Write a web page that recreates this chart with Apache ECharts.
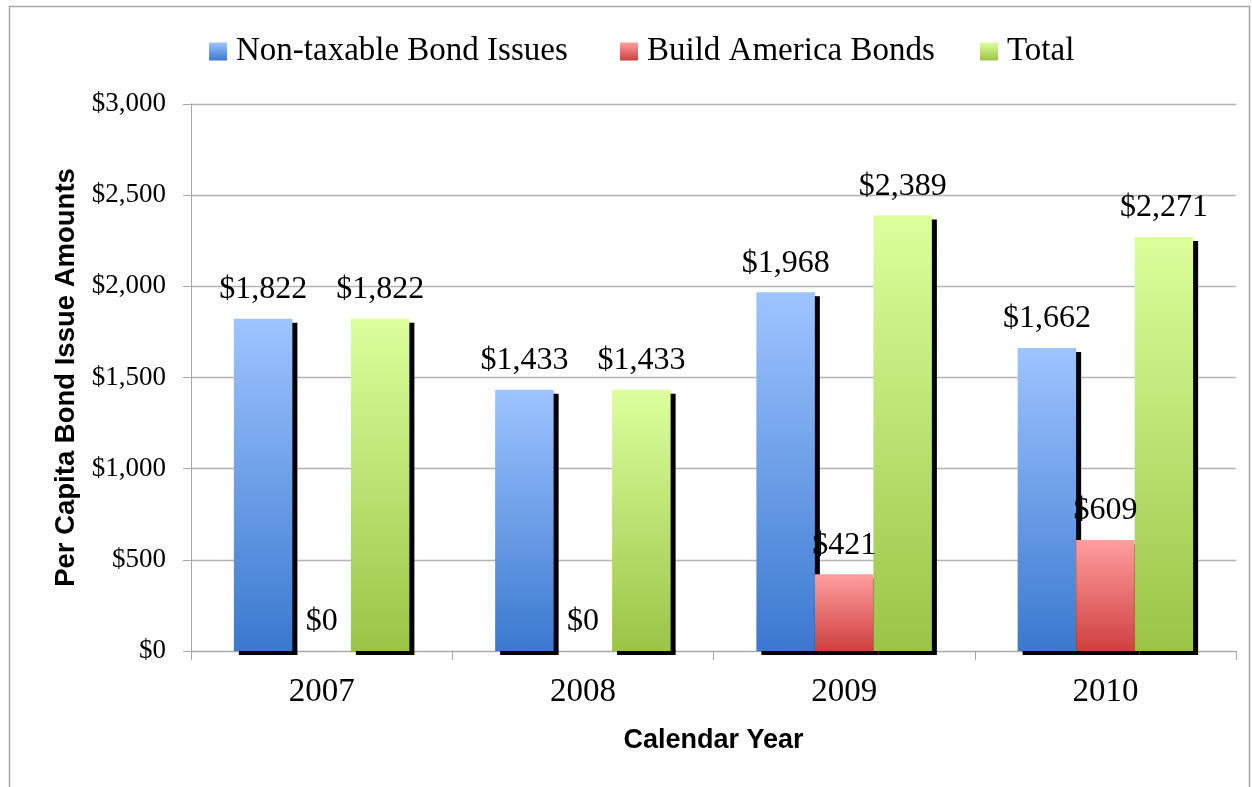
<!DOCTYPE html>
<html>
<head>
<meta charset="utf-8">
<script src="https://cdn.jsdelivr.net/npm/echarts@6/dist/echarts.min.js"></script>
<style>
  html, body { margin: 0; padding: 0; background: #fff; }
  #chart { width: 1252px; height: 787px; }
</style>
</head>
<body>
<div id="chart"></div>
<script>
// Per capita bond issue amounts by calendar year
const years = ['2007', '2008', '2009', '2010'];
const nonTaxable = [1822, 1433, 1968, 1662];
const buildAmerica = [0, 0, 421, 609];
const totals = [1822, 1433, 2389, 2271];
const yTicks = { min: 0, max: 3000, interval: 500 };

const serif = '"Liberation Serif", "Times New Roman", serif';
const sans = '"Liberation Sans", Arial, sans-serif';

function money(v) {
  return '$' + String(Math.round(v)).replace(/\B(?=(\d{3})+(?!\d))/g, ',');
}

function grad(top, bottom) {
  return new echarts.graphic.LinearGradient(0, 0, 0, 1, [
    { offset: 0, color: top },
    { offset: 1, color: bottom }
  ]);
}

const palette = {
  blue: ['#9EC4FF', '#3A79CF'],
  red: ['#FF9E9E', '#CF4040'],
  green: ['#DCFF9C', '#9BC446']
};

function barSeries(name, data, colors) {
  return {
    name: name,
    type: 'bar',
    data: data,
    barWidth: 58.5,
    barGap: '0%',
    itemStyle: {
      color: grad(colors[0], colors[1]),
      shadowColor: '#000',
      shadowBlur: 0,
      shadowOffsetX: 5,
      shadowOffsetY: 4
    },
    label: {
      show: true,
      position: 'top',
      distance: 13,
      color: '#000',
      fontFamily: serif,
      fontSize: 32,
      lineHeight: 32,
      formatter: p => money(p.value)
    },
    emphasis: { disabled: true }
  };
}

function legendAt(left, name) {
  return {
    data: [name],
    left: left,
    top: 35,
    padding: 0,
    itemWidth: 18,
    itemHeight: 18,
    icon: 'rect',
    itemStyle: { shadowColor: 'rgba(0,0,0,0)', shadowOffsetX: 0, shadowOffsetY: 0 },
    textStyle: { fontFamily: serif, fontSize: 33, color: '#000', padding: [0, 0, 0, 4] },
    selectedMode: false
  };
}

const chart = echarts.init(document.getElementById('chart'), null, { renderer: 'canvas' });

chart.setOption({
  backgroundColor: '#fff',
  animation: false,
  graphic: [{
    type: 'rect',
    shape: { x: 9.5, y: 6.5, width: 1240, height: 800 },
    style: { fill: 'none', stroke: '#A8A8A8', lineWidth: 1.5 },
    silent: true,
    z: -10
  }],
  legend: [
    legendAt(209, 'Non-taxable Bond Issues'),
    legendAt(620, 'Build America Bonds'),
    legendAt(980, 'Total')
  ],
  grid: { left: 191, right: 16, top: 104, bottom: 136, containLabel: false },
  xAxis: {
    type: 'category',
    data: years,
    name: 'Calendar Year',
    nameLocation: 'middle',
    nameGap: 76,
    nameTextStyle: { fontFamily: sans, fontWeight: 'bold', fontSize: 27, color: '#000' },
    axisLine: { lineStyle: { color: '#A6A6A6', width: 1 } },
    axisTick: { show: true, length: 9, alignWithLabel: false, lineStyle: { color: '#A6A6A6' } },
    axisLabel: { fontFamily: serif, fontSize: 33, color: '#000', margin: 25 },
    splitLine: { show: false }
  },
  yAxis: {
    type: 'value',
    min: yTicks.min,
    max: yTicks.max,
    interval: yTicks.interval,
    name: 'Per Capita Bond Issue Amounts',
    nameLocation: 'middle',
    nameRotate: 90,
    nameGap: 111,
    nameTextStyle: { fontFamily: sans, fontWeight: 'bold', fontSize: 27.5, color: '#000' },
    axisLine: { show: true, lineStyle: { color: '#A6A6A6', width: 1 } },
    axisTick: { show: true, length: 8, lineStyle: { color: '#A6A6A6' } },
    axisLabel: {
      fontFamily: serif, fontSize: 27, color: '#000', margin: 25,
      formatter: v => money(v)
    },
    splitLine: { show: true, lineStyle: { color: '#B4B4B4', width: 1.3 } }
  },
  series: [
    barSeries('Non-taxable Bond Issues', nonTaxable, palette.blue),
    barSeries('Build America Bonds', buildAmerica, palette.red),
    barSeries('Total', totals, palette.green)
  ]
});
</script>
</body>
</html>
